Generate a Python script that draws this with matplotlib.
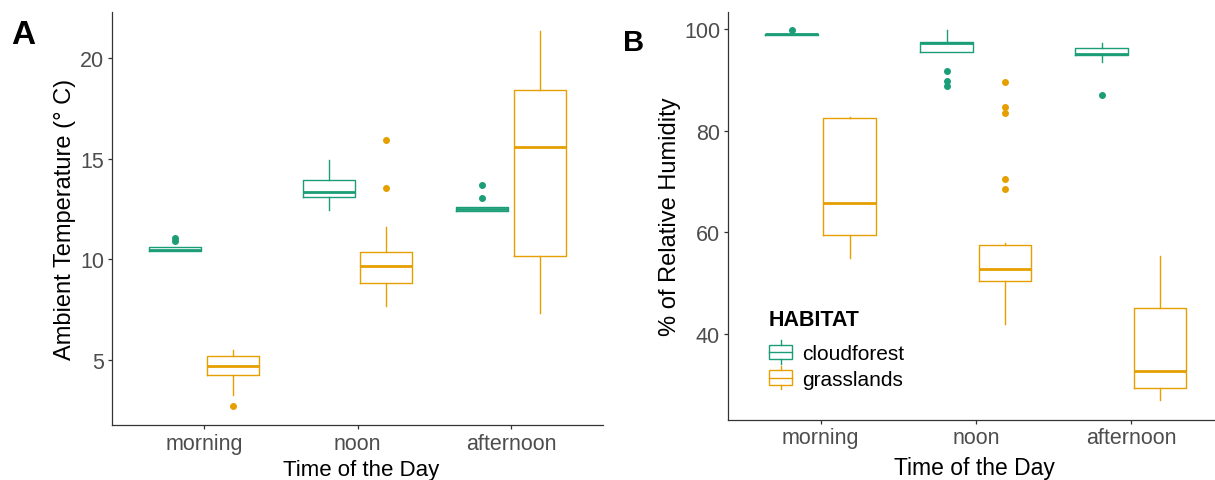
import matplotlib
matplotlib.use("Agg")
import matplotlib.pyplot as plt
from matplotlib.legend_handler import HandlerBase
from matplotlib.patches import Rectangle
from matplotlib.lines import Line2D

plt.rcParams["font.family"] = ["Liberation Sans", "DejaVu Sans"]

times = ["morning", "noon", "afternoon"]
habitats = ["cloudforest", "grasslands"]
colors = {"cloudforest": "#1B9E77", "grasslands": "#E69F00"}

# ambient temperature (deg C), box summaries per time of day
temp_lo = {"cloudforest": [10.39, 12.46, 12.41], "grasslands": [3.26, 7.68, 7.33]}
temp_q1 = {"cloudforest": [10.39, 13.09, 12.41], "grasslands": [4.26, 8.84, 10.15]}
temp_med = {"cloudforest": [10.47, 13.35, 12.50], "grasslands": [4.70, 9.67, 15.59]}
temp_q3 = {"cloudforest": [10.59, 13.93, 12.59], "grasslands": [5.21, 10.34, 18.41]}
temp_hi = {"cloudforest": [10.59, 14.94, 12.59], "grasslands": [5.51, 11.59, 21.34]}
temp_out = {"cloudforest": [[10.90, 11.05], [], [13.02, 13.70]],
            "grasslands": [[2.72], [13.54, 15.93], []]}

# relative humidity (%), box summaries per time of day
hum_lo = {"cloudforest": [98.85, 95.4, 93.5], "grasslands": [54.9, 42.0, 27.0]}
hum_q1 = {"cloudforest": [98.85, 95.4, 94.9], "grasslands": [59.5, 50.4, 29.4]}
hum_med = {"cloudforest": [99.0, 97.2, 95.1], "grasslands": [65.7, 52.8, 32.7]}
hum_q3 = {"cloudforest": [99.1, 97.5, 96.3], "grasslands": [82.4, 57.6, 45.2]}
hum_hi = {"cloudforest": [99.1, 99.8, 97.2], "grasslands": [82.7, 57.9, 55.4]}
hum_out = {"cloudforest": [[99.8], [91.7, 89.8, 88.8], [87.1]],
           "grasslands": [[], [89.6, 84.7, 83.4, 70.5, 68.5], []]}

DODGE = 0.1875
BOX_W = 0.34
AXIS_C = "#333333"
TICK_C = "#4D4D4D"


def draw_panel(ax, lo, q1, med, q3, hi, out):
    for j, hab in enumerate(habitats):
        c = colors[hab]
        stats = []
        for i in range(len(times)):
            stats.append(dict(whislo=lo[hab][i], q1=q1[hab][i], med=med[hab][i],
                              q3=q3[hab][i], whishi=hi[hab][i], fliers=out[hab][i]))
        pos = [i + 1 + (2 * j - 1) * DODGE for i in range(len(times))]
        ax.bxp(stats, positions=pos, widths=BOX_W, showcaps=False, manage_ticks=False,
               boxprops=dict(color=c, lw=1.0),
               whiskerprops=dict(color=c, lw=1.0),
               medianprops=dict(color=c, lw=2.0, solid_capstyle="butt"),
               flierprops=dict(marker="o", markerfacecolor=c, markeredgecolor=c,
                               markersize=4, linestyle="none"))
    ax.set_xticks(range(1, len(times) + 1))
    ax.set_xticklabels(times)
    for s in ["top", "right"]:
        ax.spines[s].set_visible(False)
    for s in ["left", "bottom"]:
        ax.spines[s].set_color(AXIS_C)
        ax.spines[s].set_linewidth(0.9)
    ax.tick_params(colors=AXIS_C, labelcolor=TICK_C, labelsize=15.5, length=3, width=0.9, pad=2.5)


class BoxHandler(HandlerBase):
    # small boxplot glyph for the legend keys
    def create_artists(self, legend, orig_handle, xdescent, ydescent, width, height,
                       fontsize, trans):
        c = orig_handle.get_color()
        x0, y0 = -xdescent, -ydescent
        box = Rectangle((x0, y0), width, height, fill=False, edgecolor=c, lw=1.0,
                        transform=trans)
        mid = Line2D([x0, x0 + width], [y0 + height / 2] * 2, color=c, lw=1.0, transform=trans)
        xm = x0 + width / 2
        top = Line2D([xm, xm], [y0 + height, y0 + height * 1.3], color=c, lw=1.0, transform=trans)
        bot = Line2D([xm, xm], [y0 - height * 0.3, y0], color=c, lw=1.0, transform=trans)
        return [box, mid, top, bot]


fig = plt.figure(figsize=(12.15, 4.81), dpi=100)
W, H = 1215, 481

# panel A: temperature
axA = fig.add_axes([112 / W, (H - 426) / H, 491 / W, (426 - 13.3) / H])
draw_panel(axA, temp_lo, temp_q1, temp_med, temp_q3, temp_hi, temp_out)
axA.set_xlim(0.4, 3.6)
axA.set_ylim(1.77, 22.26)
axA.set_yticks([5, 10, 15, 20])
axA.set_ylabel("Ambient Temperature (\u00b0 C)", fontsize=17)
axA.set_xlabel("Time of the Day", fontsize=16)
axA.yaxis.set_label_coords(-0.073, 0.5)
axA.xaxis.set_label_coords(0.507, -0.083)
fig.text(23 / W, 1 - 36 / H, "A", fontsize=24, fontweight="bold", ha="center", va="center")

# panel B: relative humidity
axB = fig.add_axes([727.7 / W, (H - 420.7) / H, 496.3 / W, (420.7 - 13.3) / H])
draw_panel(axB, hum_lo, hum_q1, hum_med, hum_q3, hum_hi, hum_out)
axB.set_xlim(0.4, 3.6)
axB.set_ylim(23.14, 103.29)
axB.set_yticks([40, 60, 80, 100])
axB.set_ylabel("% of Relative Humidity", fontsize=17)
axB.set_xlabel("Time of the Day", fontsize=16.5)
axB.yaxis.set_label_coords(-0.095, 0.5)
axB.xaxis.set_label_coords(0.497, -0.088)
fig.text(634 / W, 1 - 43 / H, "B", fontsize=21, fontweight="bold", ha="center", va="center")

handles = [Line2D([], [], color=colors[h]) for h in habitats]
leg = axB.legend(handles, habitats, title="HABITAT", loc="upper left",
                 bbox_to_anchor=(0.075, 0.281), frameon=False, fontsize=15,
                 title_fontproperties={"weight": "bold", "size": 15.5},
                 handler_map={Line2D: BoxHandler()}, handlelength=1.1,
                 handleheight=0.7, handletextpad=0.5, labelspacing=0.32,
                 alignment="left", borderaxespad=0, borderpad=0.2)
leg._legend_box.sep = 10

fig.savefig("out.png", dpi=100)
